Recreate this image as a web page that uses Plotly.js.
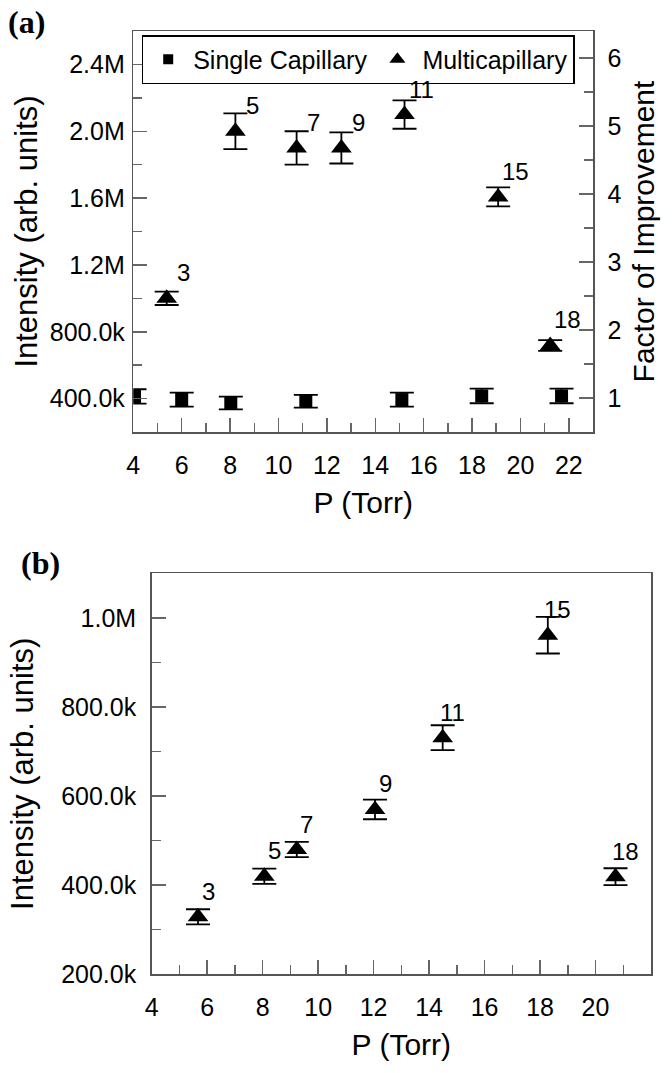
<!DOCTYPE html>
<html>
<head>
<meta charset="utf-8">
<script src="https://cdn.plot.ly/plotly-3.0.1.min.js"></script>
<style>html,body{margin:0;padding:0;background:#fff;}#chart{width:672px;height:1073px;}</style>
</head>
<body>
<div id="chart"></div>
<script>
// ---- Panel (a) data ----
const singleP = [4.05, 6.0, 8.03, 11.13, 15.1, 18.4, 21.7];
const singleI = [413000, 394000, 374000, 384000, 394000, 416000, 416000];
const singleErr = [43000, 42000, 38000, 38000, 42000, 44000, 44000];

const multiP = [5.38, 8.22, 10.75, 12.6, 15.21, 19.08, 21.23];
const multiI = [1000000, 2000000, 1900000, 1900000, 2100000, 1607000, 718000];
const multiErr = [40000, 107000, 100000, 93000, 85000, 57000, 32000];
const multiLabels = ['3', '5', '7', '9', '11', '15', '18'];

// ---- Panel (b) data ----
const bP = [5.67, 8.06, 9.23, 12.05, 14.49, 18.28, 20.72];
const bI = [329000, 420000, 480000, 570000, 731000, 961000, 419000];
const bErr = [17000, 17000, 17000, 22000, 28000, 41000, 19000];
const bLabels = ['3', '5', '7', '9', '11', '15', '18'];

// ---- Tick labels ----
const aYTickVals = [400000, 800000, 1200000, 1600000, 2000000, 2400000];
const aYTickText = ['400.0k', '800.0k', '1.2M', '1.6M', '2.0M', '2.4M'];
const bYTickVals = [200000, 400000, 600000, 800000, 1000000];
const bYTickText = ['200.0k', '400.0k', '600.0k', '800.0k', '1.0M'];
const bXTickVals = [4, 6, 8, 10, 12, 14, 16, 18, 20];

const FONT = 'Liberation Sans, Arial, sans-serif';
const LINE = '#555';
const TICK = '#666';

function errBar(arr) {
  return {type: 'data', array: arr, visible: true, color: '#000', thickness: 1.8, width: 12};
}

const traces = [
  {x: singleP, y: singleI, xaxis: 'x', yaxis: 'y', type: 'scatter', mode: 'markers',
   name: 'Single Capillary', showlegend: false, cliponaxis: true,
   marker: {symbol: 'square', size: 13, color: '#000'}, error_y: errBar(singleErr)},
  {x: multiP, y: multiI, xaxis: 'x', yaxis: 'y', type: 'scatter', mode: 'markers',
   name: 'Multicapillary', showlegend: false,
   marker: {symbol: 'triangle-up', size: 18, color: '#000'}, error_y: errBar(multiErr)},
  {x: bP, y: bI, xaxis: 'x2', yaxis: 'y3', type: 'scatter', mode: 'markers',
   name: 'Multicapillary (b)', showlegend: false,
   marker: {symbol: 'triangle-up', size: 18, color: '#000'}, error_y: errBar(bErr)},
  // legend entries (attached to the factor axis so that it is drawn)
  {x: [null], y: [null], xaxis: 'x', yaxis: 'y2', type: 'scatter', mode: 'markers',
   name: 'Single Capillary', marker: {symbol: 'square', size: 10, color: '#000'}},
  {x: [null], y: [null], xaxis: 'x', yaxis: 'y2', type: 'scatter', mode: 'markers',
   name: 'Multicapillary', marker: {symbol: 'triangle-up', size: 14, color: '#000'}}
];

const annotations = [];
multiP.forEach((p, i) => annotations.push({
  x: p, y: multiI[i], xref: 'x', yref: 'y', text: multiLabels[i], showarrow: false,
  xanchor: 'center', yanchor: 'middle', xshift: 17, yshift: 25.5,
  font: {family: FONT, size: 24, color: '#000'}
}));
bP.forEach((p, i) => annotations.push({
  x: p, y: bI[i], xref: 'x2', yref: 'y3', text: bLabels[i], showarrow: false,
  xanchor: 'center', yanchor: 'middle', xshift: 10, yshift: 25.5,
  font: {family: FONT, size: 24, color: '#000'}
}));
annotations.push({x: 26/672, y: 1 - 22/1073, xref: 'paper', yref: 'paper', text: '<b>(a)</b>',
  showarrow: false, xanchor: 'center', yanchor: 'middle',
  font: {family: 'Liberation Serif, Times New Roman, serif', size: 32, color: '#000'}});
annotations.push({x: 40/672, y: 1 - 563/1073, xref: 'paper', yref: 'paper', text: '<b>(b)</b>',
  showarrow: false, xanchor: 'center', yanchor: 'middle',
  font: {family: 'Liberation Serif, Times New Roman, serif', size: 32, color: '#000'}});

const common = {
  showline: true, linecolor: LINE, linewidth: 1.5, showgrid: false, zeroline: false,
  ticks: 'inside', ticklen: 14, tickwidth: 1.5, tickcolor: TICK,
  tickfont: {family: FONT, size: 25, color: '#000'}
};
const minorStyle = {ticks: 'inside', ticklen: 9, tickwidth: 1.5, tickcolor: TICK, showgrid: false};

const layout = {
  width: 672, height: 1073,
  margin: {l: 0, r: 0, t: 0, b: 0},
  paper_bgcolor: '#fff', plot_bgcolor: '#fff',
  font: {family: FONT, color: '#000'},
  showlegend: true,
  legend: {orientation: 'h', x: 141.7/672, y: 1 - 35/1073, xanchor: 'left', yanchor: 'top',
    bgcolor: '#fff', bordercolor: '#000', borderwidth: 1.5, itemwidth: 40,
    font: {family: FONT, size: 25, color: '#000'}, itemsizing: 'trace'},
  xaxis: Object.assign({}, common, {
    domain: [133.3/672, 593/672], anchor: 'y', range: [4, 23], tick0: 4, dtick: 2,
    mirror: true, ticklabelstandoff: 10,
    minor: Object.assign({tick0: 4, dtick: 1}, minorStyle),
    title: {text: 'P (Torr)', font: {family: FONT, size: 30, color: '#000'}, standoff: 14}
  }),
  yaxis: Object.assign({}, common, {
    domain: [1 - 432/1073, 1 - 31/1073], anchor: 'x', range: [200000, 2600000],
    tickmode: 'array', tickvals: aYTickVals, ticktext: aYTickText, ticklabelstandoff: 2,
    minor: Object.assign({tick0: 200000, dtick: 200000}, minorStyle),
    title: {text: 'Intensity (arb. units)', font: {family: FONT, size: 31, color: '#000'}, standoff: 3}
  }),
  yaxis2: Object.assign({}, common, {
    overlaying: 'y', side: 'right', anchor: 'x', range: [0.5, 6.4], tick0: 1, dtick: 1,
    tickmode: 'linear', ticklabelstandoff: 8,
    minor: Object.assign({tick0: 0.5, dtick: 0.5}, minorStyle),
    title: {text: 'Factor of Improvement', font: {family: FONT, size: 30, color: '#000'}, standoff: 12}
  }),
  xaxis2: Object.assign({}, common, {
    domain: [151.7/672, 651/672], anchor: 'y3', range: [4, 22],
    tickmode: 'array', tickvals: bXTickVals, mirror: true, ticklabelstandoff: 10,
    minor: Object.assign({tick0: 4, dtick: 1}, minorStyle),
    title: {text: 'P (Torr)', font: {family: FONT, size: 30, color: '#000'}, standoff: 14}
  }),
  yaxis3: Object.assign({}, common, {
    domain: [1 - 974.3/1073, 1 - 573.3/1073], anchor: 'x2', range: [200000, 1100000],
    tickmode: 'array', tickvals: bYTickVals, ticktext: bYTickText, mirror: true, ticklabelstandoff: 9,
    minor: Object.assign({tick0: 200000, dtick: 100000}, minorStyle),
    title: {text: 'Intensity (arb. units)', font: {family: FONT, size: 31, color: '#000'}, standoff: 18}
  }),
  annotations: annotations
};

Plotly.newPlot('chart', traces, layout, {displayModeBar: false, staticPlot: true});
</script>
</body>
</html>
